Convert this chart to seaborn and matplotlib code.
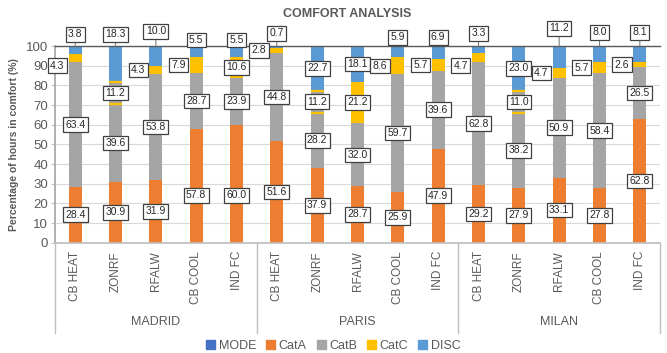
import numpy as np
import pandas as pd
import matplotlib
matplotlib.use("Agg")
import matplotlib.pyplot as plt
import matplotlib.patches as mpatches
import matplotlib.transforms as mtransforms
from matplotlib import font_manager
import seaborn as sns

# ---- data -------------------------------------------------------------
cities = ["MADRID", "PARIS", "MILAN"]
systems = ["CB HEAT", "ZONRF", "RFALW", "CB COOL", "IND FC"]
series = ["MODE", "CatA", "CatB", "CatC", "DISC"]

mode = [0.0, 0.0, 0.0, 0.0, 0.0, 0.0, 0.0, 0.0, 0.0, 0.0, 0.0, 0.0, 0.0, 0.0, 0.0]
cat_a = [28.4, 30.9, 31.9, 57.8, 60.0, 51.6, 37.9, 28.7, 25.9, 47.9, 29.2, 27.9, 33.1, 27.8, 62.8]
cat_b = [63.4, 39.6, 53.8, 28.7, 23.9, 44.8, 28.2, 32.0, 59.7, 39.6, 62.8, 38.2, 50.9, 58.4, 26.5]
cat_c = [4.3, 11.2, 4.3, 7.9, 10.6, 2.8, 11.2, 21.2, 8.6, 5.7, 4.7, 11.0, 4.7, 5.7, 2.6]
disc = [3.8, 18.3, 10.0, 5.5, 5.5, 0.7, 22.7, 18.1, 5.9, 6.9, 3.3, 23.0, 11.2, 8.0, 8.1]

# ---- label layout (None = centred in its segment) ----------------------
disc_label_y = [106, 106, 107.5, 103, 103, 106.5, None, None, 104.5, 104.5,
                106.5, None, 109, 107, 107]
catc_label_y = {0: 90, 10: 90}
cata_label_y = {3: 24, 4: 24}

colors = {"MODE": "#4472C4", "CatA": "#ED7D31", "CatB": "#A5A5A5",
          "CatC": "#FFC000", "DISC": "#5B9BD5"}

sns.set_theme(style="white")
avail = {f.name for f in font_manager.fontManager.ttflist}
base_font = "Liberation Sans" if "Liberation Sans" in avail else "DejaVu Sans"
narrow_font = "Liberation Sans Narrow" if "Liberation Sans Narrow" in avail else base_font
label_size = 8.5 if narrow_font != base_font else 7.5
plt.rcParams["font.family"] = [base_font, "DejaVu Sans"]

TXT = "#595959"

fig = plt.figure(figsize=(6.67, 3.53), dpi=100)
ax = fig.add_axes([0.0825, 0.3125, 0.907, 0.557])

n = len(systems) * len(cities)
df = pd.DataFrame({"pos": np.arange(n), "MODE": mode, "CatA": cat_a,
                   "CatB": cat_b, "CatC": cat_c, "DISC": disc})

bar_w = 0.32
bottom = np.zeros(n)
bottoms = {}
containers = {}
for name in series:
    vals = df[name].to_numpy(dtype=float)
    sns.barplot(data=df, x="pos", y=name, bottom=bottom.copy(), color=colors[name],
                saturation=1, width=bar_w, errorbar=None, ax=ax, linewidth=0)
    containers[name] = ax.containers[-1]
    bottoms[name] = bottom.copy()
    bottom = bottom + vals

# ZONRF comfort-C band: grey fill with yellow top/bottom edges
for i in range(n):
    if systems[i % 5] == "ZONRF":
        p = containers["CatC"].patches[i]
        p.set_facecolor(colors["CatB"])
        x0, w = p.get_x(), p.get_width()
        for yy in (p.get_y(), p.get_y() + p.get_height()):
            ax.plot([x0, x0 + w], [yy, yy], color=colors["CatC"], lw=1.6,
                    solid_capstyle="butt", zorder=3)

ax.set_ylim(0, 100)
ax.set_xlim(-0.5, n - 0.5)
ax.set_yticks(np.arange(0, 101, 10))
ax.yaxis.grid(True, color="#D9D9D9", lw=0.8)
ax.set_axisbelow(True)
ax.tick_params(axis="y", labelsize=9.5, labelcolor=TXT, color="#BFBFBF",
               length=3, width=0.8, pad=2, left=True)
ax.set_xticks(np.arange(n))
ax.set_xticklabels(systems * len(cities), rotation=90, fontsize=8.5, color=TXT)
ax.tick_params(axis="x", length=0, pad=6)
ax.set_xlabel("")
ax.set_ylabel("Percentage of hours in comfort (%)", fontsize=7.5, fontweight="bold",
              color=TXT, labelpad=5)

ax.spines["right"].set_visible(False)
ax.spines["top"].set_color("#595959")
ax.spines["top"].set_linewidth(1.0)
ax.spines["left"].set_color("#A6A6A6")
ax.spines["bottom"].set_color("#BFBFBF")

# city group separators and names
blend = mtransforms.blended_transform_factory(ax.transData, ax.transAxes)
for k in range(len(cities) + 1):
    xs = k * 5 - 0.5
    ax.plot([xs, xs], [0, -0.46], transform=blend, clip_on=False,
            color="#BFBFBF", lw=1)
for k, city in enumerate(cities):
    ax.text(k * 5 + 2, -0.405, city, transform=blend, ha="center", va="center",
            fontsize=9, color=TXT)

# value labels
box = dict(boxstyle="square,pad=0.22", fc="white", ec="#404040", lw=0.9)
lab_kw = dict(fontsize=label_size, family=[narrow_font, "DejaVu Sans"],
              color="#262626", bbox=box, zorder=5)


def fmt(v):
    return f"{v:.1f}"


for i in range(n):
    a, b, c, d = cat_a[i], cat_b[i], cat_c[i], disc[i]
    ya = cata_label_y.get(i, bottoms["CatA"][i] + a / 2)
    ax.text(i, ya, fmt(a), ha="center", va="center", **lab_kw)
    ax.text(i, bottoms["CatB"][i] + b / 2, fmt(b), ha="center", va="center", **lab_kw)
    yc = catc_label_y.get(i, bottoms["CatC"][i] + c / 2)
    if c >= 10:
        ax.text(i, yc, fmt(c), ha="center", va="center", **lab_kw)
    else:
        ax.annotate(fmt(c), xy=(i - bar_w / 2, yc), xytext=(-3, 0),
                    textcoords="offset points", ha="right", va="center",
                    annotation_clip=False, **lab_kw)
    yd = disc_label_y[i]
    top = bottoms["DISC"][i] + d
    if yd is None:
        ax.text(i, bottoms["DISC"][i] + d / 2, fmt(d), ha="center", va="center", **lab_kw)
    else:
        arrow = None
        if yd - 100 > 5:
            arrow = dict(arrowstyle="-", color="#7F7F7F", lw=0.8, shrinkA=0, shrinkB=0)
        ax.annotate(fmt(d), xy=(i, top), xytext=(i, yd), ha="center", va="center",
                    annotation_clip=False, arrowprops=arrow, **lab_kw)

fig.text(347 / 667, 1 - 14 / 353, "COMFORT ANALYSIS", ha="center", va="center",
         fontsize=9, fontweight="bold", color=TXT)

handles = [mpatches.Patch(color=colors[s], label=s) for s in series]
fig.legend(handles=handles, loc="center", bbox_to_anchor=(0.5, 1 - 346 / 353),
           ncol=5, frameon=False, fontsize=9, handlelength=0.7, handleheight=0.7,
           handletextpad=0.3, columnspacing=0.8, labelcolor=TXT)

fig.savefig("out.png", dpi=100)
